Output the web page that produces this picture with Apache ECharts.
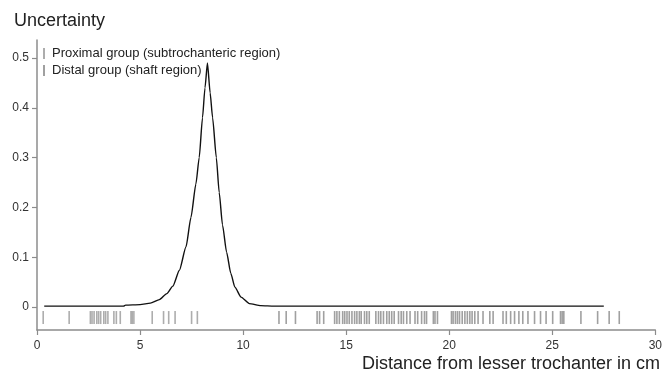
<!DOCTYPE html>
<html>
<head>
<meta charset="utf-8">
<script src="https://cdn.jsdelivr.net/npm/echarts@6/dist/echarts.min.js"></script>
<style>html,body{margin:0;padding:0;background:#fff;}#c{width:665px;height:380px;}</style>
</head>
<body>
<div id="c"></div>
<script>
// Uncertainty curve: x (cm) and y values
const curveX = [0.35, 2.0, 4.2, 4.3, 5.0, 5.5, 5.94, 6.3, 6.59, 6.91, 7.23, 7.47, 7.71, 7.87, 8.03, 8.15, 8.27, 8.4, 8.52, 8.7, 8.84, 9.0, 9.2, 9.4, 9.6, 9.9, 10.3, 10.86, 11.5, 27.5];
const curveY = [0.002, 0.002, 0.002, 0.004, 0.005, 0.008, 0.015, 0.027, 0.042, 0.074, 0.121, 0.18, 0.247, 0.3, 0.38, 0.44, 0.49, 0.43, 0.38, 0.3, 0.23, 0.165, 0.11, 0.068, 0.04, 0.02, 0.007, 0.003, 0.002, 0.002];

// Rug positions (cm)
const proximalX = [0.30, 1.56, 2.59, 2.67, 2.77, 2.9, 2.99, 3.09, 3.24, 3.33, 3.44, 3.73, 3.85, 4.04, 4.56, 4.62, 4.70, 5.59, 6.14, 6.39, 6.70, 7.50, 7.78];
const distalX = [11.74, 12.09, 12.54, 13.59, 13.71, 13.91, 14.44, 14.55, 14.67, 14.83, 14.93, 15.04, 15.15, 15.28, 15.41, 15.52, 15.64, 15.73, 15.89, 16.0, 16.12, 16.44, 16.57, 16.68, 16.81, 16.97, 17.09, 17.21, 17.33, 17.54, 17.67, 17.78, 17.94, 18.1, 18.34, 18.47, 18.66, 18.8, 18.9, 19.23, 19.31, 19.43, 20.11, 20.19, 20.3, 20.4, 20.5, 20.63, 20.76, 20.88, 21.0, 21.11, 21.24, 21.4, 21.64, 21.97, 22.13, 22.61, 22.77, 22.98, 23.17, 23.38, 23.57, 23.82, 24.14, 24.43, 24.7, 25.02, 25.4, 25.48, 25.56, 26.39, 27.2, 27.76, 28.25];

const yTicks = [0, 0.1, 0.2, 0.3, 0.4, 0.5];
const seriesNames = ['Proximal group (subtrochanteric region)', 'Distal group (shaft region)'];
const titleText = 'Uncertainty';
const xName = 'Distance from lesser trochanter in cm';

const FONT = '"Liberation Sans", Arial, Helvetica, sans-serif';
const RUG_Y = -0.021;
const axisColor = '#8c8c8c';

const chart = echarts.init(document.getElementById('c'), null, {renderer: 'canvas'});
chart.setOption({
  animation: false,
  backgroundColor: '#fff',
  textStyle: {fontFamily: FONT},
  title: [
    {text: titleText, left: 9, top: 7, textStyle: {fontFamily: FONT, fontSize: 18, fontWeight: 'normal', color: '#222'}},
    {text: xName, right: 0, top: 350, textStyle: {fontFamily: FONT, fontSize: 18, fontWeight: 'normal', color: '#222'}}
  ],
  legend: {
    orient: 'vertical', left: 43, top: 47, padding: 0, itemWidth: 2, itemHeight: 11, itemGap: 4,
    icon: 'rect',
    textStyle: {fontFamily: FONT, fontSize: 13, color: '#222', padding: [0, 0, 0, 2]},
    data: seriesNames
  },
  grid: {left: 37, right: 7, top: 40, bottom: 50},
  xAxis: {
    type: 'value', min: 0, max: 30, interval: 5,
    axisLine: {onZero: false, lineStyle: {color: axisColor, width: 1.5}},
    axisTick: {length: 5, lineStyle: {color: axisColor, width: 1.2}},
    axisLabel: {fontFamily: FONT, fontSize: 12, color: '#333', margin: 10},
    splitLine: {show: false}
  },
  yAxis: {
    type: 'value', min: -0.046, max: 0.536,
    axisLine: {show: true, onZero: false, lineStyle: {color: axisColor, width: 1.5}},
    axisTick: {show: true, length: 5, customValues: yTicks, lineStyle: {color: axisColor, width: 1.2}},
    axisLabel: {fontFamily: FONT, fontSize: 12, color: '#333', margin: 8, customValues: yTicks},
    splitLine: {show: false}
  },
  series: [
    {
      type: 'line', name: 'uncertainty', data: curveX.map((x, i) => [x, curveY[i]]),
      showSymbol: false, smooth: 0.2, smoothMonotone: 'x', lineStyle: {color: '#111', width: 1.4}, z: 3
    },
    {
      type: 'scatter', name: seriesNames[0], data: proximalX.map(x => [x, RUG_Y]),
      symbol: 'rect', symbolSize: [1.6, 13], itemStyle: {color: '#999999'}
    },
    {
      type: 'scatter', name: seriesNames[1], data: distalX.map(x => [x, RUG_Y]),
      symbol: 'rect', symbolSize: [1.6, 13], itemStyle: {color: '#888888'}
    }
  ]
});
</script>
</body>
</html>
